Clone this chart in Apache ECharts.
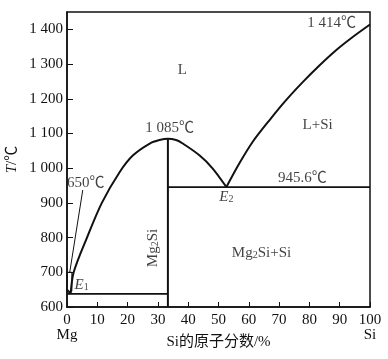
<!DOCTYPE html>
<html><head><meta charset="utf-8">
<script src="https://cdn.jsdelivr.net/npm/echarts@6/dist/echarts.min.js"></script>
<style>html,body{margin:0;padding:0;background:#fff}#c{width:388px;height:359px}</style>
</head><body><div id="c"></div>
<script>
// Mg–Si phase diagram data (x: Si at.%, y: temperature °C)
var leftLiquidus = [[1.2,638],[2.2,700],[6.6,800],[11.5,900],[17.4,989],[21.8,1037],[27.3,1071],[30.5,1081],[33.3,1085],[36,1081],[38.2,1071],[43.7,1037],[48.1,999],[52.6,945.6]];
var rightLiquidus = [[52.6,945.6],[56.9,1014],[61.3,1076],[66.8,1138],[72.3,1196],[77.8,1248],[83.3,1296],[88.8,1340],[94.3,1378],[100,1414]];
var eutectic1 = [[0,638],[33.3,638]];
var eutectic2 = [[33.3,945.6],[100,945.6]];
var mg2siLine = [[33.3,600],[33.3,1085]];
var mgSideLiquidus = [[0,650],[1.2,638]];
var insetBox = [[0,645],[1.6,645],[1.6,700],[0,700]];
var leader = [[5.2,937],[0.9,700]];
var annotations = [
  {name:'L', value:[38.1,1282]},
  {name:'1 414℃', value:[87.3,1417]},
  {name:'L+Si', value:[82.7,1124]},
  {name:'1 085℃', value:[33.9,1115]},
  {name:'945.6℃', value:[77.7,971]},
  {name:'{i|E}{s|2}', value:[52.6,917]},
  {name:'650℃', value:[6.2,957]},
  {name:'{i|E}{s|1}', value:[4.8,663]},
  {name:'Mg2Si+Si', value:[64.2,755]}
];
var verticalAnnotations = [{name:'Mg2Si', value:[28.3,770]}];
var xEndLabels = {0:'Mg', 100:'Si'};

var FONT = "'Liberation Serif','Noto Sans CJK SC',serif";
function subFmt(s){ return s.replace(/Mg2Si/g,'Mg{s|2}Si'); }
var rich = {
  i:{fontStyle:'italic', fontFamily:FONT, fontSize:15, color:'#111'},
  s:{fontSize:10, fontFamily:FONT, color:'#111', verticalAlign:'bottom', lineHeight:15}
};
function seg(data, w){
  return {type:'line', data:data, symbol:'none', silent:true, lineStyle:{color:'#111', width:w}, animation:false};
}
var chart = echarts.init(document.getElementById('c'));
chart.setOption({
  animation:false,
  grid:{left:67, right:18, top:12, bottom:52, show:true, borderColor:'#111', borderWidth:1.5, containLabel:false, outerBoundsMode:'none'},
  xAxis:{type:'value', min:0, max:100, interval:10,
    name:'Si的原子分数/%', nameLocation:'middle', nameGap:28, nameMoveOverlap:false,
    nameTextStyle:{fontFamily:FONT, fontSize:15, color:'#111'},
    axisLine:{lineStyle:{color:'#111', width:1.5}},
    axisTick:{inside:true, length:5, lineStyle:{color:'#111'}},
    splitLine:{show:false},
    axisLabel:{fontFamily:FONT, fontSize:15, color:'#111', margin:6, lineHeight:15,
      formatter:function(v){ return xEndLabels[v] ? v+'\n'+xEndLabels[v] : String(v); }}
  },
  yAxis:{type:'value', min:600, max:1450, interval:100,
    name:'{i|T}/℃', nameLocation:'middle', nameGap:47, nameRotate:90, nameMoveOverlap:false,
    nameTextStyle:{fontFamily:FONT, fontSize:15, color:'#111', rich:rich},
    axisLine:{lineStyle:{color:'#111', width:1.5}},
    axisTick:{inside:true, length:6, lineStyle:{color:'#111'}},
    splitLine:{show:false},
    axisLabel:{fontFamily:FONT, fontSize:15, color:'#111', margin:4, showMaxLabel:false,
      formatter:function(v){ if(v>1400) return ''; return v>=1000 ? Math.floor(v/1000)+' '+String(v%1000).padStart(3,'0') : String(v); }}
  },
  series:[
    Object.assign(seg(leftLiquidus,2), {smooth:0.3}),
    Object.assign(seg(rightLiquidus,2), {smooth:0.3}),
    seg(eutectic1,1.8),
    seg(eutectic2,1.8),
    seg(mg2siLine,2),
    seg(mgSideLiquidus,2),
    Object.assign(seg(insetBox.concat([insetBox[0]]),1)),
    seg(leader,1),
    {type:'scatter', data:annotations, symbolSize:0, silent:true,
      label:{show:true, position:'inside', fontFamily:FONT, fontSize:15, color:'#111', rich:rich,
        formatter:function(p){ return subFmt(p.name); }}},
    {type:'scatter', data:verticalAnnotations, symbolSize:0, silent:true,
      label:{show:true, position:'inside', rotate:90, fontFamily:FONT, fontSize:15, color:'#111', rich:rich,
        formatter:function(p){ return subFmt(p.name); }}}
  ]
});
</script></body></html>
